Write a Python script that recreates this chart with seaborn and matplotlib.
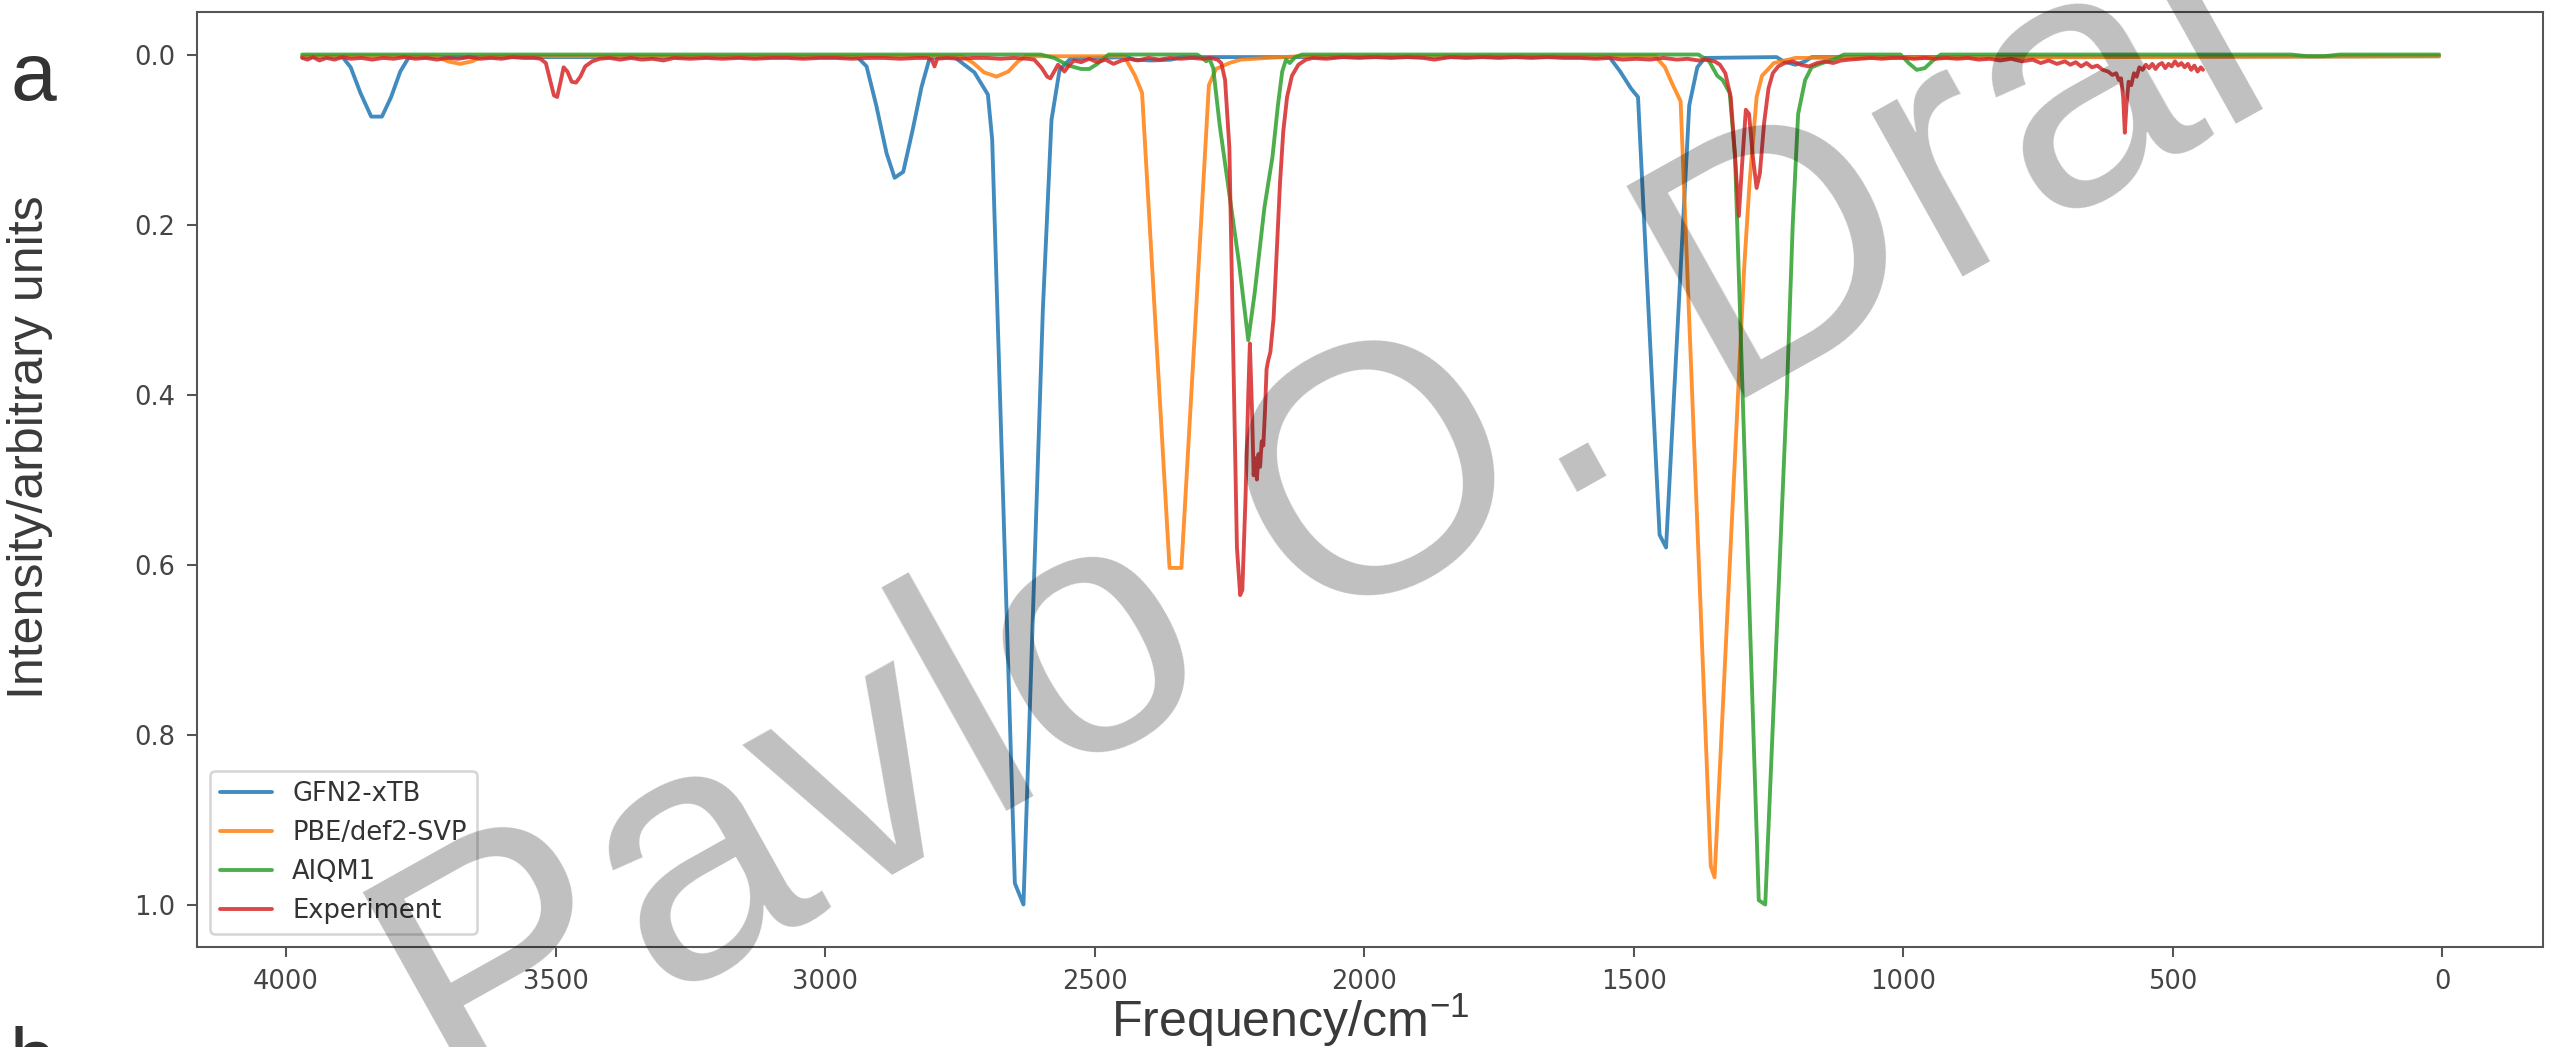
import matplotlib
matplotlib.use("Agg")
import numpy as np
import matplotlib.pyplot as plt
import seaborn as sns

# ---------------------------------------------------------------
# IR spectra: frequency (cm^-1) and normalised intensity
# ---------------------------------------------------------------
gfn2_freq = [3970, 3895, 3880, 3862, 3842, 3822, 3805, 3788, 3772,
             2940, 2923, 2905, 2886, 2871, 2855, 2838, 2821, 2806,
             2760, 2723, 2698, 2690, 2648, 2632, 2596, 2580, 2565, 2545,
             2440, 2426, 2395, 2358, 2340,
             1545, 1525, 1505, 1492, 1452, 1440, 1397, 1382, 1368,
             1235, 1222, 1200, 1182, 1170,
             6]
gfn2_int = [0.003, 0.003, 0.015, 0.045, 0.073, 0.073, 0.050, 0.020, 0.003,
            0.003, 0.014, 0.060, 0.116, 0.145, 0.138, 0.090, 0.038, 0.004,
            0.003, 0.021, 0.047, 0.100, 0.975, 1.000, 0.300, 0.077, 0.018, 0.005,
            0.003, 0.006, 0.007, 0.006, 0.003,
            0.003, 0.020, 0.040, 0.050, 0.565, 0.580, 0.060, 0.015, 0.004,
            0.003, 0.008, 0.012, 0.008, 0.003,
            0.002]

pbe_freq = [3970, 3720, 3700, 3677, 3655, 3635,
            2745, 2725, 2705, 2682, 2660, 2642, 2628,
            2445, 2425, 2412, 2361, 2339, 2288, 2275, 2250, 2229, 2180, 2120,
            1460, 1442, 1428, 1413, 1357, 1350, 1295, 1285, 1272, 1262, 1240, 1200,
            6]
pbe_int = [0.002, 0.002, 0.008, 0.011, 0.008, 0.002,
           0.002, 0.010, 0.021, 0.026, 0.020, 0.008, 0.002,
           0.002, 0.025, 0.045, 0.604, 0.604, 0.036, 0.017, 0.010, 0.006, 0.004, 0.002,
           0.002, 0.015, 0.035, 0.055, 0.955, 0.968, 0.250, 0.150, 0.050, 0.025, 0.010, 0.004,
           0.002]

aiqm_freq = [3970, 2600, 2575, 2548, 2525, 2510, 2495, 2474,
             2310, 2300, 2293, 2287, 2280, 2268, 2232, 2215, 2203, 2185, 2170, 2160,
             2152, 2145, 2138, 2128, 2115,
             1380, 1360, 1345, 1335, 1322, 1312, 1268, 1256, 1216, 1205, 1195, 1182,
             1170, 1150, 1130, 1110,
             1005, 990, 975, 960, 945, 930,
             280, 250, 220, 190, 6]
aiqm_int = [0.000, 0.000, 0.004, 0.013, 0.017, 0.017, 0.011, 0.000,
            0.000, 0.004, 0.008, 0.005, 0.016, 0.083, 0.246, 0.336, 0.280, 0.180, 0.120, 0.060,
            0.020, 0.006, 0.010, 0.003, 0.000,
            0.000, 0.008, 0.025, 0.030, 0.045, 0.120, 0.995, 1.000, 0.400, 0.200, 0.070, 0.030,
            0.015, 0.010, 0.006, 0.000,
            0.000, 0.010, 0.018, 0.016, 0.007, 0.000,
            0.000, 0.002, 0.002, 0.000, 0.000]

exp_freq = [3970, 3960, 3950, 3938, 3925, 3910, 3895, 3880, 3860, 3840, 3820, 3800,
            3780, 3760, 3740, 3720, 3700, 3680, 3660, 3640, 3620, 3600, 3580, 3560,
            3540, 3528, 3518, 3510, 3503, 3497, 3491, 3485, 3478, 3470, 3462, 3454,
            3445, 3432, 3418, 3400, 3380, 3360, 3340, 3320, 3300, 3280, 3250, 3220,
            3190, 3160, 3130, 3100, 3070, 3040, 3010, 2980, 2950, 2920, 2890, 2860,
            2830, 2810, 2802, 2797, 2792, 2775, 2750, 2725, 2700, 2675, 2650, 2625,
            2612, 2598, 2588, 2582, 2575, 2568, 2562, 2556, 2548, 2538, 2525, 2510,
            2495, 2480, 2465, 2450, 2435, 2420, 2400, 2380, 2360, 2340, 2320, 2300,
            2285, 2272, 2265, 2258, 2250, 2242, 2236, 2230, 2226, 2220, 2215, 2212,
            2208, 2205, 2202, 2199, 2196, 2193, 2190, 2187, 2184, 2181, 2178, 2174,
            2168, 2162, 2156, 2150, 2143, 2134, 2122, 2108, 2095, 2070, 2040, 2010,
            1980, 1950, 1920, 1890, 1870, 1860, 1840, 1810, 1780, 1750, 1720, 1690,
            1660, 1630, 1600, 1570, 1545, 1520, 1495, 1470, 1445, 1420, 1400, 1380,
            1365, 1350, 1340, 1330, 1320, 1312, 1305, 1299, 1292, 1286, 1279, 1272,
            1266, 1258, 1250, 1242, 1232, 1220, 1205, 1190, 1175, 1160, 1145, 1130,
            1115, 1100, 1080, 1060, 1040, 1020, 1000, 980, 960, 940, 920, 900,
            880, 860, 840, 820, 800, 780, 760, 745, 730, 715, 700, 690,
            680, 670, 660, 650, 640, 630, 620, 612, 605, 600, 596, 592,
            589, 586, 582, 577, 572, 567, 562, 556, 550, 544, 538, 532,
            526, 520, 514, 508, 502, 496, 490, 484, 478, 472, 466, 460,
            454, 448, 444]
exp_int = [0.004, 0.006, 0.003, 0.007, 0.004, 0.006, 0.003, 0.005, 0.004, 0.006, 0.004, 0.005,
           0.003, 0.005, 0.004, 0.006, 0.004, 0.005, 0.003, 0.005, 0.004, 0.005, 0.003, 0.004,
           0.004, 0.005, 0.010, 0.030, 0.048, 0.050, 0.033, 0.015, 0.020, 0.032, 0.033, 0.026,
           0.014, 0.008, 0.005, 0.004, 0.006, 0.004, 0.006, 0.005, 0.007, 0.004, 0.005, 0.004,
           0.005, 0.004, 0.005, 0.004, 0.004, 0.005, 0.004, 0.004, 0.005, 0.004, 0.004, 0.005,
           0.004, 0.004, 0.006, 0.014, 0.005, 0.004, 0.005, 0.004, 0.004, 0.005, 0.004, 0.005,
           0.006, 0.016, 0.026, 0.028, 0.020, 0.012, 0.016, 0.020, 0.013, 0.007, 0.009, 0.005,
           0.009, 0.006, 0.011, 0.007, 0.005, 0.007, 0.004, 0.006, 0.004, 0.005, 0.004, 0.005,
           0.004, 0.006, 0.010, 0.030, 0.110, 0.380, 0.580, 0.636, 0.630, 0.520, 0.400, 0.340,
           0.420, 0.495, 0.475, 0.500, 0.470, 0.485, 0.455, 0.460, 0.420, 0.370, 0.360, 0.350,
           0.310, 0.230, 0.150, 0.090, 0.050, 0.025, 0.012, 0.006, 0.004, 0.005, 0.003, 0.004,
           0.003, 0.004, 0.003, 0.004, 0.006, 0.005, 0.003, 0.004, 0.003, 0.004, 0.003, 0.004,
           0.003, 0.004, 0.004, 0.005, 0.004, 0.006, 0.005, 0.006, 0.004, 0.006, 0.005, 0.007,
           0.006, 0.008, 0.012, 0.022, 0.050, 0.120, 0.190, 0.130, 0.065, 0.070, 0.120, 0.157,
           0.140, 0.080, 0.040, 0.022, 0.014, 0.010, 0.008, 0.012, 0.014, 0.010, 0.008, 0.010,
           0.007, 0.006, 0.005, 0.004, 0.005, 0.004, 0.004, 0.005, 0.004, 0.005, 0.004, 0.005,
           0.004, 0.006, 0.005, 0.007, 0.005, 0.008, 0.006, 0.010, 0.007, 0.011, 0.008, 0.012,
           0.009, 0.014, 0.010, 0.015, 0.013, 0.018, 0.020, 0.024, 0.022, 0.030, 0.028, 0.050,
           0.092, 0.060, 0.032, 0.036, 0.022, 0.026, 0.015, 0.018, 0.012, 0.016, 0.011, 0.017,
           0.012, 0.010, 0.016, 0.011, 0.014, 0.008, 0.013, 0.010, 0.015, 0.011, 0.018, 0.013,
           0.020, 0.015, 0.018]

series_names = ["GFN2-xTB", "PBE/def2-SVP", "AIQM1", "Experiment"]
series_freq = [gfn2_freq, pbe_freq, aiqm_freq, exp_freq]
series_int = [gfn2_int, pbe_int, aiqm_int, exp_int]

x_ticks = [4000, 3500, 3000, 2500, 2000, 1500, 1000, 500, 0]
y_ticks = [0.0, 0.2, 0.4, 0.6, 0.8, 1.0]

# ---------------------------------------------------------------
# Style
# ---------------------------------------------------------------
sns.set_style("ticks")
plt.rcParams["font.family"] = ["DejaVu Sans"]
plt.rcParams["mathtext.default"] = "regular"
plt.rcParams["axes.edgecolor"] = "#555555"
plt.rcParams["axes.linewidth"] = 0.8

DPI = 185
fig = plt.figure(figsize=(2549 / DPI, 1047 / DPI), dpi=DPI)
fig.patch.set_facecolor("white")
ax = fig.add_axes([0.0773, 0.0955, 0.9204, 0.8930])

palette = sns.color_palette("tab10", 4)
for name, fr, it, col in zip(series_names, series_freq, series_int, palette):
    sns.lineplot(x=fr, y=it, ax=ax, color=col, label=name, linewidth=1.5,
                 alpha=0.85, sort=False, estimator=None)

ax.set_xlim(4165, -187)
ax.set_ylim(1.05, -0.05)
ax.set_xticks(x_ticks)
ax.set_yticks(y_ticks)
ax.set_xticklabels([str(t) for t in x_ticks])
ax.set_yticklabels([f"{t:.1f}" for t in y_ticks])
ax.set_xlabel("")
ax.set_ylabel("")
for s in ax.spines.values():
    s.set_visible(True)
    s.set_color("#555555")
    s.set_linewidth(0.8)
ax.tick_params(axis="both", colors="#555555", labelcolor="#444444",
               length=4, width=0.8, labelsize=10, pad=4.5)

leg = ax.legend(loc="lower left", fontsize=10, framealpha=0.8)
for t in leg.get_texts():
    t.set_color("#333333")

# axis titles and panel letters
label_font = "Liberation Sans"
fig.text(43 / 2549, 1 - 447 / 1047, "Intensity/arbitrary units", rotation=90,
         ha="center", va="baseline", rotation_mode="anchor",
         fontsize=19.5, family=label_font, color="#3a3a3a")
fig.text(1290 / 2549, 1 - 1037 / 1047, "Frequency/cm$^{-1}$",
         ha="center", va="baseline", fontsize=19.5, family=label_font,
         color="#3a3a3a")
fig.text(10 / 2549, 1 - 100 / 1047, "a", ha="left", va="baseline",
         fontsize=32, family=label_font, color="#333333")
fig.text(10 / 2549, -0.036, "b", ha="left", va="baseline",
         fontsize=32, family=label_font, color="#333333")

# author watermark across the figure
fig.text(457 / 2549, 1 - 1118 / 1047, "Pavlo O. Dral", rotation=29.2,
         rotation_mode="anchor", ha="left", va="baseline",
         fontsize=137, family=label_font, color="black", alpha=0.25, zorder=10)

fig.savefig("out.png", dpi=DPI, facecolor="white")
